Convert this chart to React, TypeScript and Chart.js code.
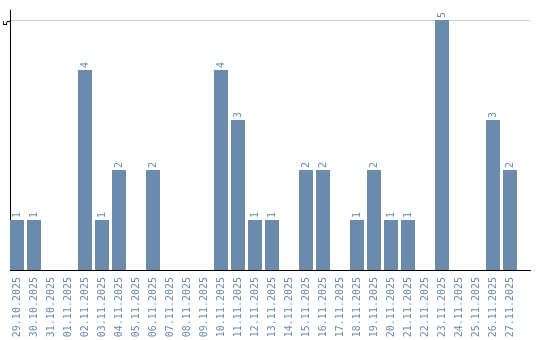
import React, { useEffect, useRef } from "react";
import { Chart, registerables } from "chart.js";

Chart.register(...registerables);

const dateLabels: string[] = [
  "29.10.2025", "30.10.2025", "31.10.2025", "01.11.2025", "02.11.2025",
  "03.11.2025", "04.11.2025", "05.11.2025", "06.11.2025", "07.11.2025",
  "08.11.2025", "09.11.2025", "10.11.2025", "11.11.2025", "12.11.2025",
  "13.11.2025", "14.11.2025", "15.11.2025", "16.11.2025", "17.11.2025",
  "18.11.2025", "19.11.2025", "20.11.2025", "21.11.2025", "22.11.2025",
  "23.11.2025", "24.11.2025", "25.11.2025", "26.11.2025", "27.11.2025",
];

const counts: number[] = [
  1, 1, 0, 0, 4, 1, 2, 0, 2, 0,
  0, 0, 4, 3, 1, 1, 0, 2, 2, 0,
  1, 2, 1, 1, 0, 5, 0, 0, 3, 2,
];

const yTickValues: number[] = [5];

const BAR_COLOR = "#6a8bab";
const TEXT_COLOR = "#6b8cae";
const FONT_FAMILY = "'DejaVu Sans Mono', 'Liberation Mono', monospace";

const valueLabelPlugin = {
  id: "valueLabels",
  afterDatasetsDraw(chart: any) {
    const ctx = chart.ctx;
    const meta = chart.getDatasetMeta(0);
    ctx.save();
    ctx.font = `10px ${FONT_FAMILY}`;
    ctx.fillStyle = TEXT_COLOR;
    ctx.textAlign = "left";
    ctx.textBaseline = "middle";
    meta.data.forEach((bar: any, i: number) => {
      const v = counts[i];
      if (!v) return;
      ctx.save();
      ctx.translate(bar.x, bar.y - 2);
      ctx.rotate(-Math.PI / 2);
      ctx.fillText(String(v), 0, 0);
      ctx.restore();
    });
    ctx.restore();
  },
};

export default function App() {
  const canvasRef = useRef<HTMLCanvasElement | null>(null);

  useEffect(() => {
    if (!canvasRef.current) return;
    const xMin = -7 / 17;
    const xMax = xMin + 520 / 17;
    const chart = new Chart(canvasRef.current, {
      type: "bar",
      data: {
        datasets: [
          {
            data: counts.map((v, i) => ({ x: i, y: v })),
            backgroundColor: BAR_COLOR,
            borderWidth: 0,
            barPercentage: 14 / 17,
            categoryPercentage: 1,
          },
        ],
      },
      options: {
        animation: false,
        responsive: false,
        maintainAspectRatio: false,
        layout: { padding: { left: 0, top: 10, right: 10, bottom: 0 } },
        plugins: {
          legend: { display: false },
          tooltip: { enabled: false },
        },
        scales: {
          x: {
            type: "linear",
            min: xMin,
            max: xMax,
            offset: false,
            afterBuildTicks: (axis: any) => {
              axis.ticks = dateLabels.map((_, i) => ({ value: i }));
            },
            afterFit: (axis: any) => {
              axis.height = 70;
            },
            grid: { display: false, drawTicks: false },
            border: { display: true, color: "#000", width: 1 },
            ticks: {
              autoSkip: false,
              minRotation: 90,
              maxRotation: 90,
              padding: 7,
              color: TEXT_COLOR,
              font: { family: FONT_FAMILY, size: 10 },
              callback: (value: any) => {
                const i = Math.round(Number(value));
                return dateLabels[i] ?? "";
              },
            },
          },
          y: {
            min: 0,
            max: 5.2,
            afterBuildTicks: (axis: any) => {
              axis.ticks = yTickValues.map((v) => ({ value: v }));
            },
            afterFit: (axis: any) => {
              axis.width = 10;
            },
            grid: { color: "#cccccc", lineWidth: 1, drawTicks: false },
            border: { display: true, color: "#000", width: 1 },
            ticks: {
              minRotation: 90,
              maxRotation: 90,
              padding: 2,
              color: "#000",
              font: { family: FONT_FAMILY, size: 10 },
            },
          },
        },
      },
      plugins: [valueLabelPlugin],
    } as any);
    return () => chart.destroy();
  }, []);

  return (
    <div style={{ position: "absolute", left: 0, top: 0, width: 540, height: 340, background: "#fff" }}>
      <canvas ref={canvasRef} width={540} height={340} style={{ display: "block", width: 540, height: 340 }} />
    </div>
  );
}
